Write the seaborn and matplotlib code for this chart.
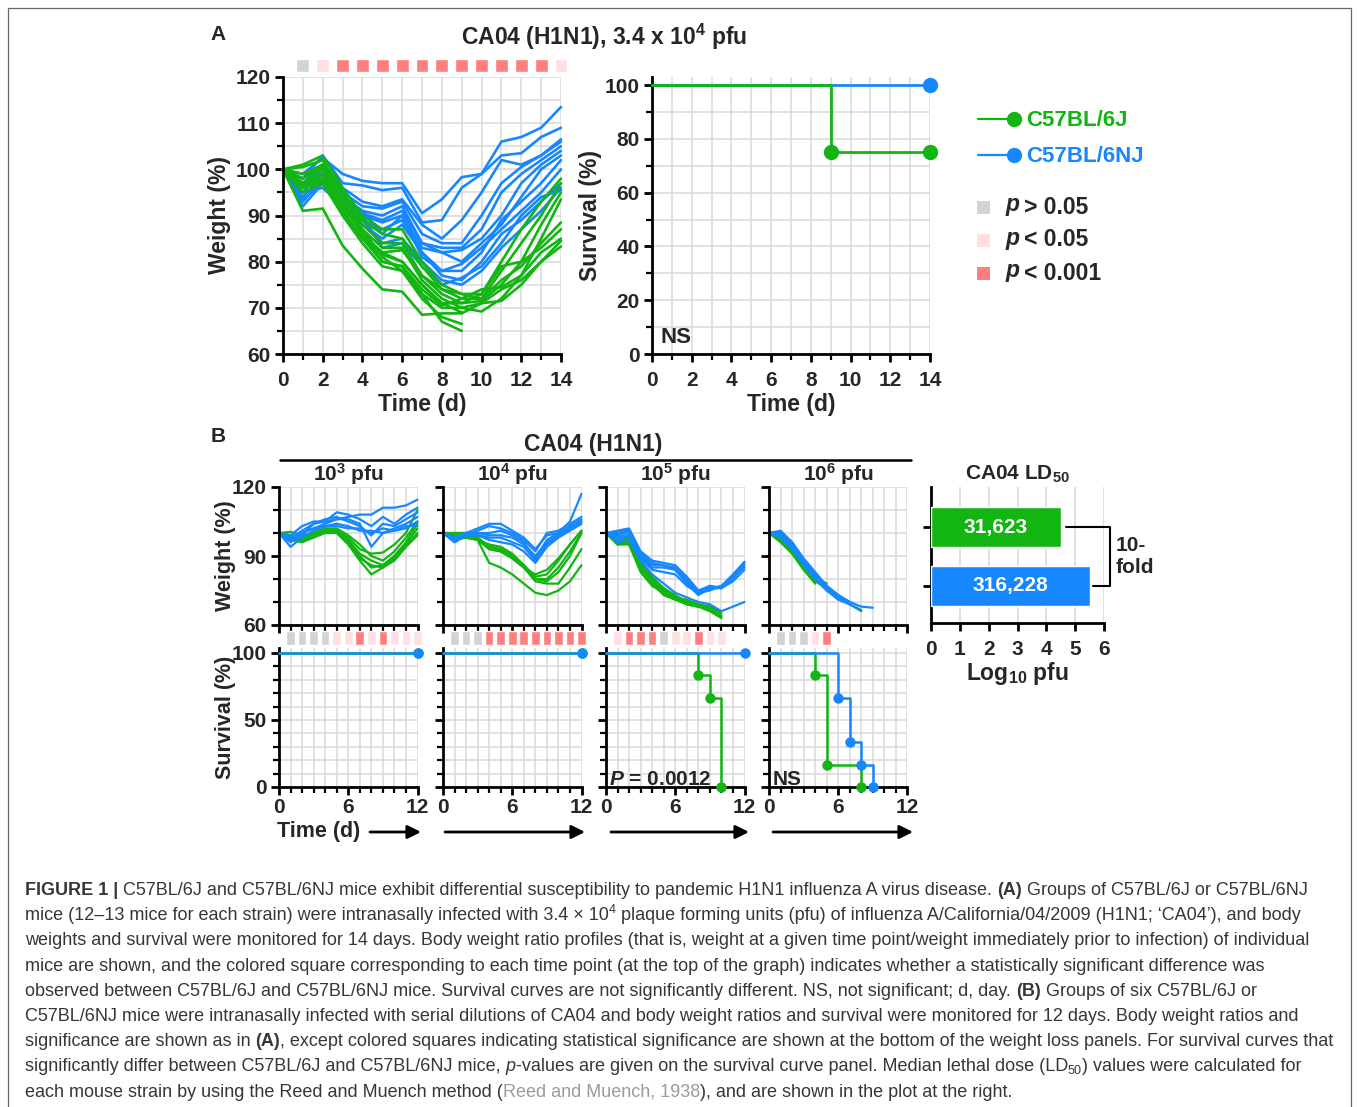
import numpy as np
import pandas as pd
import matplotlib
matplotlib.use('Agg')
import matplotlib.pyplot as plt
import seaborn as sns
from matplotlib.ticker import MultipleLocator
from matplotlib.patches import Rectangle

sns.set_style('ticks')
plt.rcParams['font.family'] = ['Liberation Sans', 'DejaVu Sans']
plt.rcParams['font.weight'] = 'bold'
plt.rcParams['mathtext.fontset'] = 'custom'
plt.rcParams['mathtext.rm'] = 'Liberation Sans:bold'
plt.rcParams['mathtext.bf'] = 'Liberation Sans:bold'
plt.rcParams['mathtext.it'] = 'Liberation Sans:italic:bold'

GREEN = '#12b512'
BLUE = '#1787ff'
SIG_COLORS = {'ns': '#d3d3d3', 'p05': '#ffdfdf', 'p001': '#ff7e7e'}
STRAINS = ['C57BL/6J', 'C57BL/6NJ']
PAL = {'C57BL/6J': GREEN, 'C57BL/6NJ': BLUE}

# ---------------- panel A data (days 0..14) ----------------
a_j_weights = [
    [100, 101, 103, 96, 90, 87, 87, 80, 75, 73, 73, 80, 87, 93, 98],
    [100, 100.5, 102, 95, 89, 86, 85, 79, 74, 72, 72, 78, 84, 90, 97],
    [100, 99, 101, 94, 88, 84, 84, 77, 73, 71, 71.5, 75, 80, 88, 95],
    [100, 98, 100.5, 93, 87, 83, 83, 76, 72, 70, 69.2, 72, 77, 85, 93.5],
    [100, 97, 99, 92, 86, 82, 82.5, 77, 74, 73, 72, 76, 79, 84, 88.5],
    [100, 96.5, 98, 91, 85, 81.5, 80, 75, 71, 71, 73, 79, 80, 83, 87],
    [100, 96, 97.5, 90.5, 85, 80, 79, 74, 70.5, 72, 74, 74.5, 77, 82, 85],
    [100, 95, 97, 90, 84, 79, 78, 73, 70, 70, 71, 71.5, 75, 80, 84.5],
    [100, 91, 91.5, 83.5, 78.5, 74, 73.5, 68.5, 68.8, 68.8, 71, 74, 76, 80, 83.3],
    [100, 97, 100, 93, 86, 80, 79, 73, 67, 65],
    [100, 98, 101, 92, 87, 81, 78, 72, 68, 66.5],
    [100, 96, 99, 91, 85, 82, 80, 75, 71, 69],
]
a_nj_weights = [
    [100, 99, 102.5, 99, 97.5, 97, 97, 90.5, 93.5, 98.3, 99, 106, 107, 109, 113.5],
    [100, 98, 103, 97, 96.5, 95.5, 96, 88.5, 89, 96, 99, 103, 103.5, 107, 109],
    [100, 97, 101, 96, 93, 92, 93.5, 88, 85, 89, 95, 102, 101, 103, 106.5],
    [100, 96, 100, 95, 92, 91.5, 93, 86, 84, 84, 90, 97, 100.5, 103, 106],
    [100, 95, 100, 94, 91, 90, 92, 84, 83, 83, 87, 95, 99, 102, 105],
    [100, 94, 99, 94, 90.5, 89, 91, 84, 82, 82.5, 85, 90, 97, 101, 104],
    [100, 93, 98, 93, 90, 88.5, 90, 83, 82, 80, 84, 88, 94, 100, 103],
    [100, 92, 97, 92, 89, 87, 89, 82, 78, 79.5, 83, 87, 91, 95, 100],
    [100, 93.5, 97, 92, 88, 85, 88, 82, 77, 76, 80, 86, 89, 93, 97],
    [100, 95, 96, 92, 89, 84, 85, 80, 76, 75, 78, 83, 87, 91, 96],
    [100, 96, 98, 93, 90, 83, 84, 79, 75, 76.5, 79, 84, 90, 94, 95.5],
    [100, 97, 99, 94, 91, 86, 90, 81, 78, 78, 82, 89, 93, 97, 102],
]
a_sig_days = [1, 2, 3, 4, 5, 6, 7, 8, 9, 10, 11, 12, 13, 14]
a_sig = ['ns', 'p05', 'p001', 'p001', 'p001', 'p001', 'p001', 'p001',
         'p001', 'p001', 'p001', 'p001', 'p001', 'p05']
a_surv_j_t = [0, 9, 14]
a_surv_j = [100, 75, 75]
a_surv_nj_t = [0, 14]
a_surv_nj = [100, 100]

# ---------------- panel B data (days 0..12) ----------------
b_doses = [r'$\mathbf{10^{3}}$ pfu', r'$\mathbf{10^{4}}$ pfu',
           r'$\mathbf{10^{5}}$ pfu', r'$\mathbf{10^{6}}$ pfu']
b1_j_weights = [
    [100, 100.5, 99, 100, 102, 101, 98, 93, 91, 91.5, 95, 100, 110],
    [100, 99, 98, 100, 101, 101, 97, 91, 88, 86, 90, 96, 104],
    [100, 98, 96, 99, 101, 100.5, 96, 90, 85, 86, 90, 95, 102],
    [100, 97, 96, 98, 100, 100, 95, 88, 82, 85, 88, 94, 100],
    [100, 98, 97, 99, 101, 101, 96, 89, 86, 85, 89, 94, 99],
    [100, 99, 97, 100, 102, 102, 99, 95, 90, 88, 92, 98, 105],
]
b1_nj_weights = [
    [100, 99, 103, 105, 105, 106, 107, 108, 108, 111, 111, 112, 114.5],
    [100, 98, 101, 104, 105, 109, 108, 106, 103, 107, 104, 108, 111],
    [100, 97, 99, 104, 106, 107, 105, 103, 99, 104, 103, 106, 109],
    [100, 96, 100, 102, 104, 106, 106, 104, 94, 100, 102, 104, 107],
    [100, 94, 98, 101, 103, 104, 103, 101, 101, 100, 101, 102, 105],
    [100, 97, 100, 102, 103, 103, 102, 102, 100, 102, 101, 103, 103],
]
b2_j_weights = [
    [100, 100, 100, 97, 87, 85, 82, 78, 74, 73, 75, 79, 86],
    [100, 99, 99, 98, 93, 92, 89, 85, 79, 78, 78, 85, 93],
    [100, 100, 100, 98, 94, 93, 90, 86, 80, 80, 85, 92, 100],
    [100, 99, 98, 97, 95, 94, 91, 86, 81, 82, 88, 95, 101],
    [100, 97, 98, 97, 93, 92, 89, 85, 82, 84, 89, 95, 101],
    [100, 98, 99, 98, 94, 93, 90, 86, 80, 79, 83, 90, 100],
]
b2_nj_weights = [
    [100, 97, 100, 102, 104, 104, 101, 98, 93, 99, 100, 105, 117],
    [100, 96, 99, 101, 103, 102, 100, 97, 92, 100, 101, 104, 107],
    [100, 97, 99, 100, 100, 101, 99, 96, 89, 97, 100, 103, 106],
    [100, 96, 99, 99, 98, 98, 96, 94, 88, 95, 99, 102, 105],
    [100, 98, 99, 99, 97, 96, 95, 92, 87, 94, 98, 101, 104],
    [100, 98, 100, 100, 99, 99, 98, 95, 90, 96, 99, 102, 105],
]
b3_j_weights = [
    [100, 96, 97, 86, 80, 76, 73, 70, 69, 68, 65],
    [100, 95, 96, 85, 79, 75, 72, 69, 68, 66, 63],
    [100, 96, 97, 84, 78, 73, 71, 70, 69, 67, 64],
    [100, 95, 95, 83, 77, 74, 72, 71, 69, 67, 63.5],
    [100, 97, 98, 87, 81, 76, 72, 69, 68, 68, 66],
    [100, 96, 96, 85, 79, 74, 71, 69, 68],
]
b3_nj_weights = [
    [100, 101, 102, 92, 88, 87, 86, 81, 75, 77, 76, 81, 87],
    [100, 100, 101.5, 91, 87, 86, 85, 80, 74, 75, 77, 80, 86],
    [100, 99, 101, 90, 86, 86, 84, 79, 74, 77, 76, 81, 85],
    [100, 98, 100, 90, 85, 85, 84, 78, 73, 76, 77, 82, 87.5],
    [100, 97, 99, 89, 84, 83, 82, 77, 74, 76, 76, 79, 84],
    [100, 96, 97, 88, 82, 78, 74, 72, 70, 69, 66, 68, 70],
]
b4_j_weights = [
    [100, 98, 93, 86, 80, 77],
    [100, 97, 92, 85, 79, 76],
    [100, 98, 94, 87, 81, 78],
    [100, 97, 92, 85, 80, 76],
    [100, 96, 91, 84, 78],
    [100, 98, 93, 86, 80, 76, 72, 69, 66],
]
b4_nj_weights = [
    [100, 100.5, 95, 88, 82, 76, 73],
    [100, 99, 94, 87, 81, 75, 72],
    [100, 100, 96, 89, 83, 77, 73, 70],
    [100, 98, 93, 86, 80, 75, 71, 69],
    [100, 99, 95, 88, 81, 76, 72, 69, 66.5],
    [100, 101, 96, 88, 82, 77, 73, 70, 68, 67.5],
]
b_j_weights = [b1_j_weights, b2_j_weights, b3_j_weights, b4_j_weights]
b_nj_weights = [b1_nj_weights, b2_nj_weights, b3_nj_weights, b4_nj_weights]
b_sig = [
    ['ns', 'ns', 'ns', 'ns', 'p05', 'p05', 'p001', 'p05', 'p001', 'p05', 'p05', 'p05'],
    ['ns', 'ns', 'ns', 'p001', 'p001', 'p001', 'p001', 'p001', 'p001', 'p001', 'p001', 'p001'],
    ['p05', 'p001', 'p001', 'p001', 'ns', 'p05', 'p05', 'p001', 'p05', 'p05'],
    ['ns', 'ns', 'ns', 'p05', 'p001'],
]
b_surv_j_t = [[0, 12], [0, 12], [0, 8, 9, 10], [0, 4, 5, 8]]
b_surv_j = [[100, 100], [100, 100], [100, 83.3, 66.7, 0], [100, 83.3, 16.7, 0]]
b_surv_nj_t = [[0, 12], [0, 12], [0, 12], [0, 6, 7, 8, 9]]
b_surv_nj = [[100, 100], [100, 100], [100, 100], [100, 66.7, 33.3, 16.7, 0]]
b_surv_note = ['', '', r'$P$ = 0.0012', 'NS']

# LD50
ld50_pfu = [31623, 316228]


def long_df(j_rows, nj_rows):
    recs = []
    for strain, rows in zip(STRAINS, [j_rows, nj_rows]):
        for m, w in enumerate(rows):
            for d, v in enumerate(w):
                recs.append((strain, f'{strain}-{m}', d, v))
    return pd.DataFrame(recs, columns=['strain', 'mouse', 'day', 'weight'])


W, H = 1358, 1107
fig = plt.figure(figsize=(W / 100, H / 100), dpi=100)


def px_rect(l, t, r, b):
    return [l / W, 1 - b / H, (r - l) / W, (b - t) / H]


def style_ax(ax, labelsize=15, xpad=6):
    for s in ['top', 'right']:
        ax.spines[s].set_visible(False)
    for s in ['left', 'bottom']:
        ax.spines[s].set_linewidth(2.0)
        ax.spines[s].set_color('black')
    ax.tick_params(which='major', length=6, width=2.0, labelsize=labelsize, pad=3, color='black')
    ax.tick_params(axis='x', which='major', pad=xpad)
    ax.tick_params(which='minor', length=4, width=1.6, color='black')
    ax.grid(which='both', color='#d9d9d9', lw=1.1)
    ax.set_axisbelow(True)


# ---------------- Panel A: weight ----------------
axA = fig.add_axes(px_rect(283, 77, 561, 354))
sns.lineplot(data=long_df(a_j_weights, a_nj_weights), x='day', y='weight', hue='strain',
             units='mouse', estimator=None, hue_order=STRAINS[::-1], palette=PAL,
             lw=1.9, legend=False, ax=axA, clip_on=False)
axA.bar(a_sig_days, 2.8, bottom=121.0, width=0.65,
        color=[SIG_COLORS[s] for s in a_sig], clip_on=False, zorder=3)
axA.set_xlim(0, 14)
axA.set_ylim(60, 120)
axA.xaxis.set_major_locator(MultipleLocator(2))
axA.xaxis.set_minor_locator(MultipleLocator(1))
axA.yaxis.set_major_locator(MultipleLocator(10))
axA.yaxis.set_minor_locator(MultipleLocator(5))
style_ax(axA)
axA.set_xlabel('Time (d)', fontsize=16.5, fontweight='bold')
axA.set_ylabel('Weight (%)', fontsize=16.5, fontweight='bold')
axA.yaxis.set_label_coords(-0.227, 0.5)
axA.yaxis.label.set_va('center')
axA.xaxis.set_label_coords(0.5, -0.184)
axA.xaxis.label.set_va('center')

# ---------------- Panel A: survival ----------------
axS = fig.add_axes(px_rect(652, 77, 930, 354))
axS.step(a_surv_nj_t, a_surv_nj, where='post', color=BLUE, lw=2.0, clip_on=False, zorder=3)
axS.step(a_surv_j_t, a_surv_j, where='post', color=GREEN, lw=2.0, clip_on=False, zorder=4)
axS.plot(a_surv_j_t[1:], a_surv_j[1:], 'o', color=GREEN, ms=10, clip_on=False, zorder=5)
axS.plot(a_surv_nj_t[1:], a_surv_nj[1:], 'o', color=BLUE, ms=10, clip_on=False, zorder=5)
axS.set_xlim(0, 14)
axS.set_ylim(0, 103)
axS.xaxis.set_major_locator(MultipleLocator(2))
axS.xaxis.set_minor_locator(MultipleLocator(1))
axS.yaxis.set_major_locator(MultipleLocator(20))
axS.yaxis.set_minor_locator(MultipleLocator(10))
style_ax(axS)
axS.set_xlabel('Time (d)', fontsize=16.5, fontweight='bold')
axS.set_ylabel('Survival (%)', fontsize=16.5, fontweight='bold')
axS.yaxis.set_label_coords(-0.223, 0.5)
axS.yaxis.label.set_va('center')
axS.xaxis.set_label_coords(0.5, -0.184)
axS.xaxis.label.set_va('center')
axS.text(0.45, 4.2, 'NS', fontsize=16, fontweight='bold', va='baseline', ha='left')

# ---------------- Panel B ----------------
b_lefts = [279, 443, 606, 769]
for i, left in enumerate(b_lefts):
    right = left + 138.5
    axw = fig.add_axes(px_rect(left, 487, right, 625))
    sns.lineplot(data=long_df(b_j_weights[i], b_nj_weights[i]), x='day', y='weight',
                 hue='strain', units='mouse', estimator=None, hue_order=STRAINS,
                 palette=PAL, lw=1.6, legend=False, ax=axw, clip_on=False)
    sig = b_sig[i]
    axw.bar(list(range(1, len(sig) + 1)), 6.5, bottom=51.1, width=0.75,
            color=[SIG_COLORS[s] for s in sig], clip_on=False, zorder=3)
    axw.set_xlim(0, 12)
    axw.set_ylim(60, 120)
    axw.xaxis.set_major_locator(MultipleLocator(6))
    axw.xaxis.set_minor_locator(MultipleLocator(1))
    axw.yaxis.set_major_locator(MultipleLocator(30))
    axw.yaxis.set_minor_locator(MultipleLocator(10))
    style_ax(axw)
    axw.tick_params(labelbottom=False)
    axw.set_xlabel('')
    if i == 0:
        axw.set_ylabel('Weight (%)', fontsize=15.5, fontweight='bold')
        axw.yaxis.set_label_coords(-0.384, 0.5)
        axw.yaxis.label.set_va('center')
    else:
        axw.set_ylabel('')
        axw.tick_params(labelleft=False)

    axs = fig.add_axes(px_rect(left, 648, right, 787))
    axs.step(b_surv_j_t[i], b_surv_j[i], where='post', color=GREEN, lw=1.8, clip_on=False, zorder=3)
    axs.plot(b_surv_j_t[i][1:], b_surv_j[i][1:], 'o', color=GREEN, ms=6.5, clip_on=False, zorder=3)
    axs.step(b_surv_nj_t[i], b_surv_nj[i], where='post', color=BLUE, lw=1.8, clip_on=False, zorder=4)
    axs.plot(b_surv_nj_t[i][1:], b_surv_nj[i][1:], 'o', color=BLUE, ms=6.5, clip_on=False, zorder=4)
    axs.set_xlim(0, 12)
    axs.set_ylim(0, 103.7)
    axs.xaxis.set_major_locator(MultipleLocator(6))
    axs.xaxis.set_minor_locator(MultipleLocator(1))
    axs.yaxis.set_major_locator(MultipleLocator(50))
    axs.yaxis.set_minor_locator(MultipleLocator(10))
    style_ax(axs, xpad=2)
    if i == 0:
        axs.set_ylabel('Survival (%)', fontsize=15.5, fontweight='bold')
        axs.yaxis.set_label_coords(-0.384, 0.5)
        axs.yaxis.label.set_va('center')
    else:
        axs.tick_params(labelleft=False)
    if b_surv_note[i]:
        axs.text(0.3, 1.5, b_surv_note[i], fontsize=15, fontweight='bold',
                 va='baseline', ha='left', zorder=6)

# ---------------- LD50 ----------------
axL = fig.add_axes(px_rect(931, 487, 1104, 623))
ld_log = np.log10(ld50_pfu)
sns.barplot(x=ld_log, y=STRAINS, hue=STRAINS, palette=[GREEN, BLUE], orient='h',
            width=0.68, saturation=1, legend=False, ax=axL, zorder=3)
axL.set_xlim(0, 6)
axL.set_ylim(1.63, -0.68)
axL.xaxis.set_major_locator(MultipleLocator(1))
style_ax(axL)
axL.grid(False)
axL.grid(axis='x', which='major', color='#d9d9d9', lw=1.1)
axL.tick_params(axis='y', labelleft=False)
axL.set_ylabel('')
axL.set_xlabel(r'Log$_{\mathbf{10}}$ pfu', fontsize=16.5, fontweight='bold')
axL.xaxis.set_label_coords(0.5, -0.37)
axL.xaxis.label.set_va('center')
for k, (v, lv) in enumerate(zip(ld50_pfu, ld_log)):
    axL.text(lv / 2, k, f'{v:,}', color='white', fontsize=15, fontweight='bold',
             ha='center', va='center', zorder=5)
axL.plot([4.68, 6.22, 6.22, 5.62], [0, 0, 1, 1], color='black', lw=1.5, clip_on=False)
axL.text(6.42, 0.5, '10-\nfold', fontsize=15, fontweight='bold', ha='left', va='center',
         linespacing=1.15)

# ---------------- overlay (pixel coordinates) ----------------
ov = fig.add_axes([0, 0, 1, 1])
ov.set_xlim(0, W)
ov.set_ylim(H, 0)
ov.axis('off')

# border
ov.plot([8, 8, 1351, 1351], [1110, 8, 8, 1110], color='#666666', lw=0.9, clip_on=False)

ov.text(218, 35, 'A', fontsize=15, fontweight='bold', ha='center', va='center')
ov.text(218, 436, 'B', fontsize=15, fontweight='bold', ha='center', va='center')
ov.text(604, 37, r'CA04 (H1N1), 3.4 x 10$^{\mathbf{4}}$ pfu', fontsize=16.5,
        fontweight='bold', ha='center', va='center')
ov.text(593, 444, 'CA04 (H1N1)', fontsize=16.5, fontweight='bold', ha='center', va='center')
ov.plot([280, 911], [460, 460], color='black', lw=1.8)
for left, lab in zip(b_lefts, b_doses):
    ov.text(left + 69, 474, lab, fontsize=15, fontweight='bold', ha='center', va='center')
ov.text(1017, 474, r'CA04 LD$_{\mathbf{50}}$', fontsize=15, fontweight='bold',
        ha='center', va='center')

# time arrows under panel B
ov.text(319, 832, 'Time (d)', fontsize=15.5, fontweight='bold', ha='center', va='center')
for x0, x1 in [(370, 421), (445, 585), (611, 749), (773, 913)]:
    ov.annotate('', xy=(x1, 832), xytext=(x0, 832),
                arrowprops=dict(arrowstyle='-|>', lw=2.0, color='black', mutation_scale=20,
                                shrinkA=0, shrinkB=0))

# legend
for y, strain, col in [(119, 'C57BL/6J', GREEN), (155, 'C57BL/6NJ', BLUE)]:
    ov.plot([978, 1012], [y, y], color=col, lw=1.6)
    ov.plot([1014], [y], 'o', color=col, ms=10)
    ov.text(1026, y + 1, strain, color=col, fontsize=16, fontweight='bold', ha='left', va='center')
for y, key, txt in [(207, 'ns', '> 0.05'), (240, 'p05', '< 0.05'), (273, 'p001', '< 0.001')]:
    ov.add_patch(Rectangle((977, y - 6.5), 13, 13, color=SIG_COLORS[key], lw=0))
    ov.text(1005, y, r'$p$', fontsize=16.5, ha='left', va='center')
    ov.text(1024, y, txt, fontsize=16.5, fontweight='bold', ha='left', va='center')

# caption
renderer = fig.canvas.get_renderer()
CAP_FS = 13.0
CAP_COL = '#363636'


def cap_kw(kind):
    kw = dict(fontsize=CAP_FS, color=CAP_COL, fontweight='normal', ha='left', va='baseline')
    if kind == 'b':
        kw['fontweight'] = 'bold'
    if kind == 'i':
        kw['style'] = 'italic'
    if kind == 'g':
        kw['color'] = '#9b9b9b'
    if kind in ('sup', 'sub'):
        kw['fontsize'] = CAP_FS * 0.7
    return kw


def text_w(s, kw):
    t = ov.text(0, 0, s, **kw)
    w = t.get_window_extent(renderer).width
    t.remove()
    return w


def caption_line(y, parts):
    x = 25
    for s, kind in parts:
        kw = cap_kw(kind)
        sp = text_w('a a', kw) - text_w('aa', kw)
        lead = len(s) - len(s.lstrip(' '))
        trail = len(s) - len(s.rstrip(' '))
        core = s.strip(' ')
        x += lead * sp
        yy = y
        if kind == 'sup':
            yy = y - 7
        if kind == 'sub':
            yy = y + 3
        t = ov.text(x, yy, core, **kw)
        x += t.get_window_extent(renderer).width + trail * sp


caption = [
    [('FIGURE 1 |', 'b'), (' C57BL/6J and C57BL/6NJ mice exhibit differential susceptibility to pandemic H1N1 influenza A virus disease. ', 'n'),
     ('(A)', 'b'), (' Groups of C57BL/6J or C57BL/6NJ', 'n')],
    [('mice (12–13 mice for each strain) were intranasally infected with 3.4 × 10', 'n'), ('4', 'sup'),
     (' plaque forming units (pfu) of influenza A/California/04/2009 (H1N1; ‘CA04’), and body', 'n')],
    [('weights and survival were monitored for 14 days. Body weight ratio profiles (that is, weight at a given time point/weight immediately prior to infection) of individual', 'n')],
    [('mice are shown, and the colored square corresponding to each time point (at the top of the graph) indicates whether a statistically significant difference was', 'n')],
    [('observed between C57BL/6J and C57BL/6NJ mice. Survival curves are not significantly different. NS, not significant; d, day. ', 'n'),
     ('(B)', 'b'), (' Groups of six C57BL/6J or', 'n')],
    [('C57BL/6NJ mice were intranasally infected with serial dilutions of CA04 and body weight ratios and survival were monitored for 12 days. Body weight ratios and', 'n')],
    [('significance are shown as in ', 'n'), ('(A)', 'b'),
     (', except colored squares indicating statistical significance are shown at the bottom of the weight loss panels. For survival curves that', 'n')],
    [('significantly differ between C57BL/6J and C57BL/6NJ mice, ', 'n'), ('p', 'i'),
     ('-values are given on the survival curve panel. Median lethal dose (LD', 'n'), ('50', 'sub'),
     (') values were calculated for', 'n')],
    [('each mouse strain by using the Reed and Muench method (', 'n'), ('Reed and Muench, 1938', 'g'),
     ('), and are shown in the plot at the right.', 'n')],
]
for k, parts in enumerate(caption):
    caption_line(895 + 25.2 * k, parts)

fig.savefig('out.png', dpi=100)
